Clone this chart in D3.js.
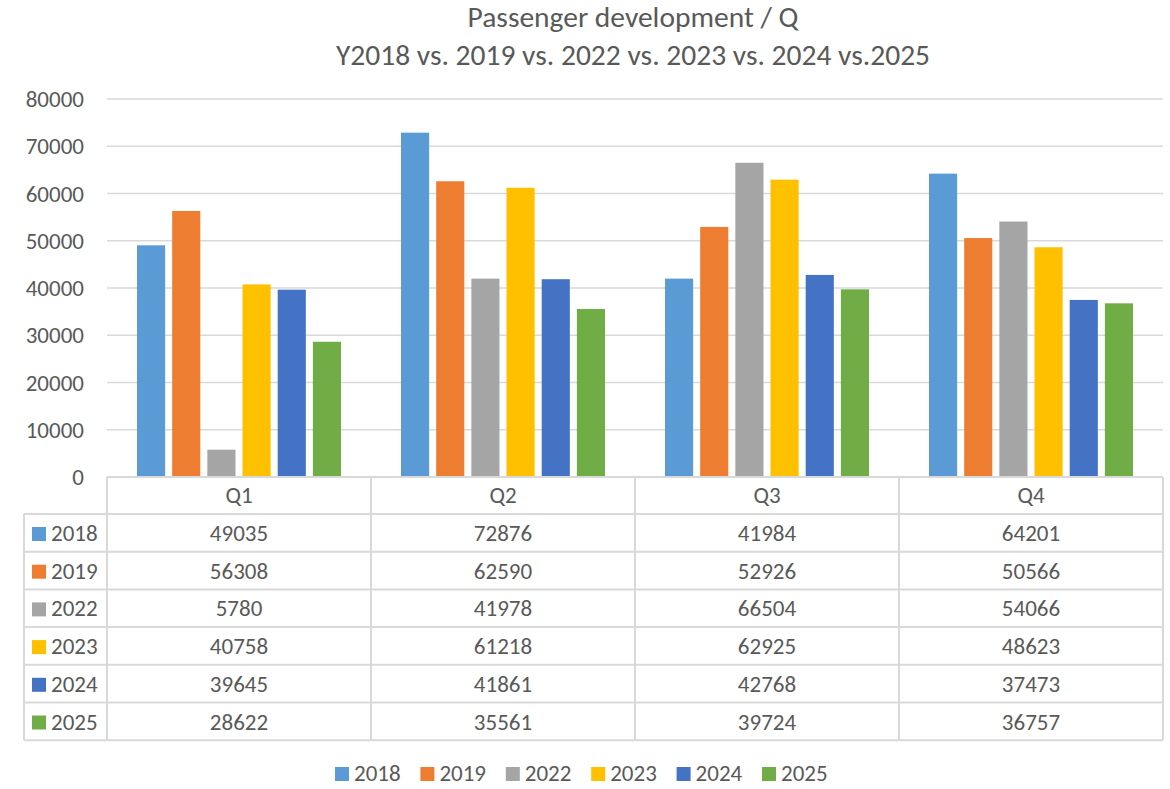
<!DOCTYPE html>
<html>
<head>
<meta charset="utf-8">
<script src="https://cdn.jsdelivr.net/npm/d3@7"></script>
<style>
  body { margin: 0; background: #fff; }
  text { font-family: Carlito, "Noto Sans", "Open Sans", sans-serif; fill: #595959; }
</style>
</head>
<body>
<script>
var width = 1170, height = 789;

// data
var quarters = ["Q1", "Q2", "Q3", "Q4"];
var years = ["2018", "2019", "2022", "2023", "2024", "2025"];
var v2018 = [49035, 72876, 41984, 64201];
var v2019 = [56308, 62590, 52926, 50566];
var v2022 = [5780, 41978, 66504, 54066];
var v2023 = [40758, 61218, 62925, 48623];
var v2024 = [39645, 41861, 42768, 37473];
var v2025 = [28622, 35561, 39724, 36757];
var yTicks = [0, 10000, 20000, 30000, 40000, 50000, 60000, 70000, 80000];
var colors = ["#5B9BD5", "#ED7D31", "#A5A5A5", "#FFC000", "#4472C4", "#70AD47"];

var series = years.map(function(y, i) {
    return { year: y, values: [v2018, v2019, v2022, v2023, v2024, v2025][i], color: colors[i] };
});

var svg = d3.select("body").append("svg")
    .attr("width", width)
    .attr("height", height);

svg.append("rect").attr("width", width).attr("height", height).attr("fill", "#fff");

// plot area bounds (plotTop, not "top": that one is window.top)
var plotLeft = 107, plotRight = 1163, plotTop = 99, plotBottom = 477;
var fs = "23px";

// title
svg.append("text").attr("x", 633).attr("y", 27).attr("text-anchor", "middle")
    .style("font-size", "29.5px").text("Passenger development / Q");
svg.append("text").attr("x", 633).attr("y", 65).attr("text-anchor", "middle")
    .style("font-size", "29.5px").text("Y2018 vs. 2019 vs. 2022 vs. 2023 vs. 2024 vs.2025");

var x = d3.scaleBand().domain(quarters).range([plotLeft, plotRight]).paddingInner(0).paddingOuter(0);
var xInner = d3.scaleBand().domain(years).range([30, x.bandwidth() - 30]).paddingInner(0.2).paddingOuter(0);
var y = d3.scaleLinear().domain([0, 80000]).range([plotBottom, plotTop]);

// gridlines
svg.append("g").selectAll("line").data(yTicks).enter().append("line")
    .attr("x1", plotLeft).attr("x2", plotRight)
    .attr("y1", function(d) { return y(d); })
    .attr("y2", function(d) { return y(d); })
    .attr("stroke", "#d9d9d9").attr("stroke-width", 1.3);

// y tick labels
svg.append("g").selectAll("text").data(yTicks).enter().append("text")
    .attr("x", 84).attr("y", function(d) { return y(d) + 8; })
    .attr("text-anchor", "end")
    .style("font-size", fs)
    .text(function(d) { return d; });

// bars
var groups = svg.append("g").selectAll("g").data(series).enter().append("g")
    .attr("fill", function(d) { return d.color; });

groups.selectAll("rect")
    .data(function(d) { return d.values.map(function(v, i) { return { q: quarters[i], v: v, year: d.year }; }); })
    .enter().append("rect")
    .attr("x", function(d) { return x(d.q) + xInner(d.year); })
    .attr("width", xInner.bandwidth())
    .attr("y", function(d) { return y(d.v); })
    .attr("height", function(d) { return plotBottom - y(d.v); });

// data table
var rowH = 37.7;
var headerTop = plotBottom, headerBottom = plotBottom + 37;
var tableBottom = headerBottom + rowH * years.length;
var legLeft = 24;
var grid = svg.append("g").attr("stroke", "#d9d9d9").attr("stroke-width", 2).attr("fill", "none");

// horizontal lines
grid.append("line").attr("x1", plotLeft).attr("x2", plotRight).attr("y1", headerTop).attr("y2", headerTop);
d3.range(years.length + 1).forEach(function(i) {
    var yy = headerBottom + i * rowH;
    grid.append("line").attr("x1", legLeft).attr("x2", plotRight).attr("y1", yy).attr("y2", yy);
});
// vertical lines
quarters.forEach(function(q) {
    grid.append("line").attr("x1", x(q)).attr("x2", x(q)).attr("y1", headerTop).attr("y2", tableBottom);
});
grid.append("line").attr("x1", plotRight).attr("x2", plotRight).attr("y1", headerTop).attr("y2", tableBottom);
grid.append("line").attr("x1", legLeft).attr("x2", legLeft).attr("y1", headerBottom).attr("y2", tableBottom);

// header labels
svg.append("g").selectAll("text").data(quarters).enter().append("text")
    .attr("x", function(d) { return x(d) + x.bandwidth() / 2; })
    .attr("y", headerTop + 26)
    .attr("text-anchor", "middle")
    .style("font-size", fs)
    .text(function(d) { return d; });

// rows
var rows = svg.append("g").selectAll("g").data(series).enter().append("g")
    .attr("transform", function(d, i) { return "translate(0," + (headerBottom + i * rowH) + ")"; });

rows.append("rect").attr("x", 32).attr("y", 13).attr("width", 14).attr("height", 14)
    .attr("fill", function(d) { return d.color; });
rows.append("text").attr("x", 51).attr("y", 27).style("font-size", fs)
    .text(function(d) { return d.year; });
rows.selectAll("text.val")
    .data(function(d) { return d.values; })
    .enter().append("text").attr("class", "val")
    .attr("x", function(d, i) { return x(quarters[i]) + x.bandwidth() / 2; })
    .attr("y", 27)
    .attr("text-anchor", "middle")
    .style("font-size", fs)
    .text(function(d) { return d; });

// legend
var legend = svg.append("g").selectAll("g").data(series).enter().append("g")
    .attr("transform", function(d, i) { return "translate(" + (335 + i * 85.4) + ",767)"; });
legend.append("rect").attr("width", 14).attr("height", 14).attr("fill", function(d) { return d.color; });
legend.append("text").attr("x", 19).attr("y", 14).style("font-size", fs)
    .text(function(d) { return d.year; });
</script>
</body>
</html>
